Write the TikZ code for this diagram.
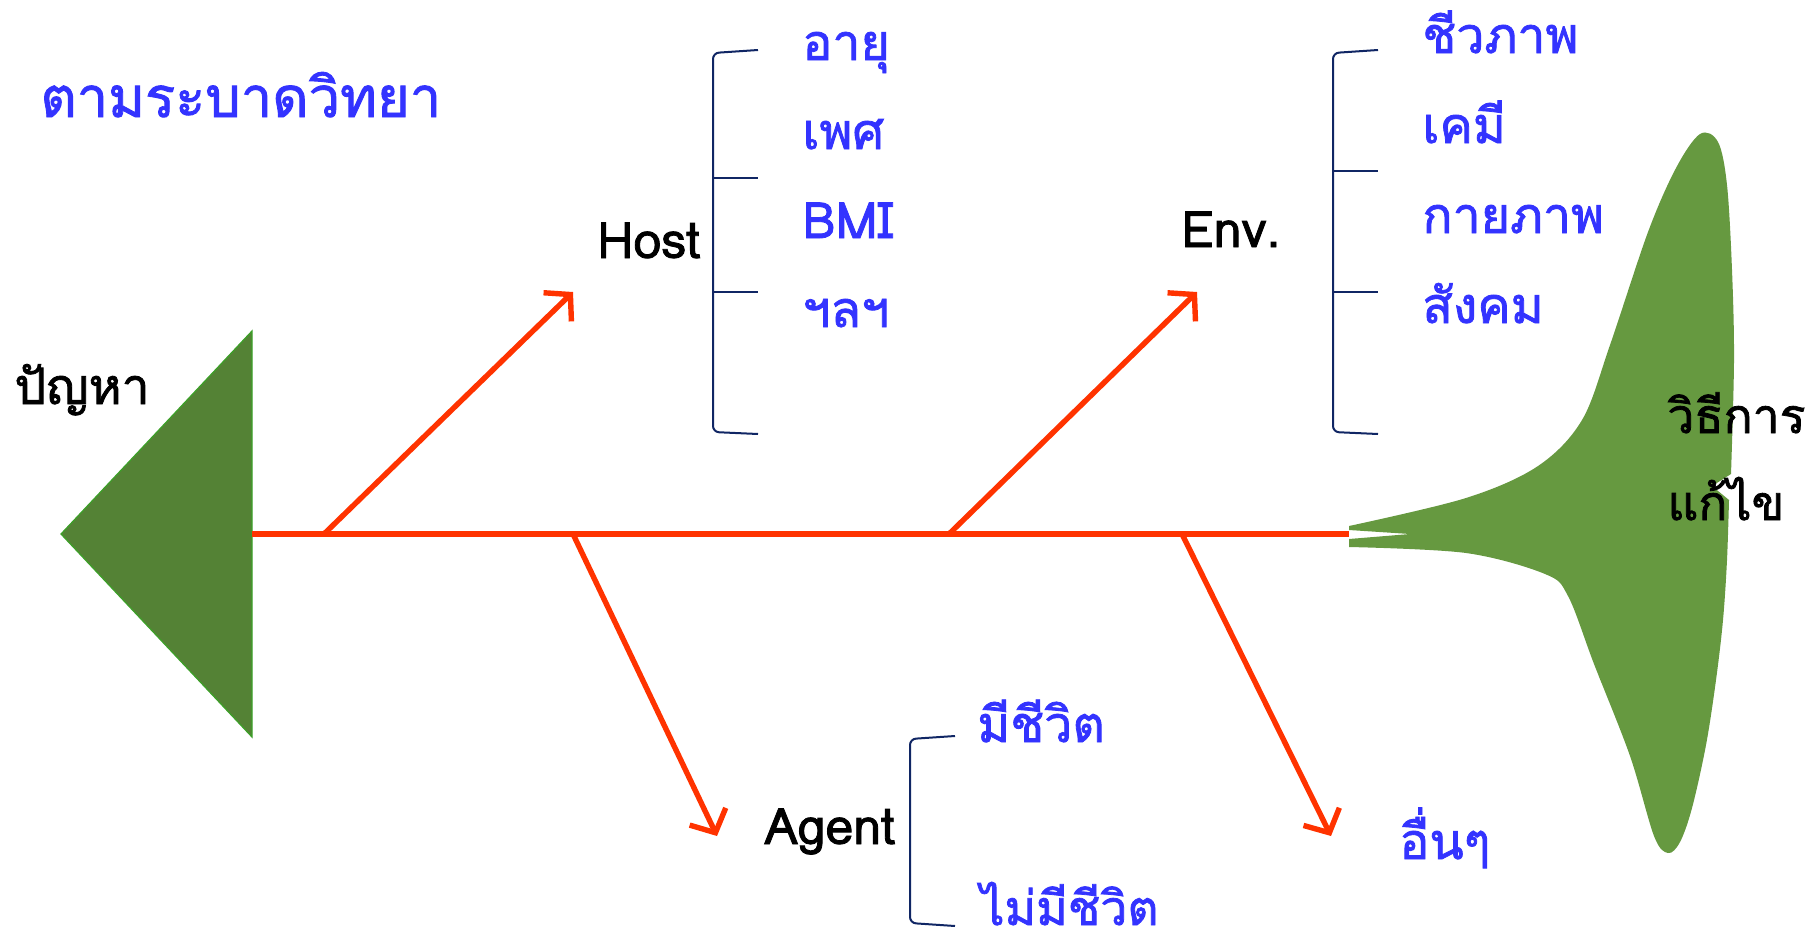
\documentclass[tikz,border=0pt]{standalone}
\usepackage{fontspec}
\newfontfamily\thaifont[Script=Thai, FakeBold=1.6]{Loma}
\usetikzlibrary{arrows.meta}

\definecolor{bonered}{RGB}{255,51,0}
\definecolor{itemblue}{RGB}{51,51,255}
\definecolor{braceblue}{RGB}{16,38,100}
\definecolor{headgreen}{RGB}{84,130,53}
\definecolor{headedge}{RGB}{60,160,40}
\definecolor{tailgreen}{RGB}{102,153,64}

\tikzset{
  bone/.style={bonered, line width=2.7pt},
  branch/.style={bone, -{Straight Barb[length=9pt,width=20pt]}},
  factor/.style={anchor=base west, inner sep=0pt, font=\thaifont\fontsize{25}{29}\selectfont},
  subitem/.style={factor, text=itemblue},
  brace/.style={braceblue, line width=1pt, rounded corners=3},
}

\begin{document}
\begin{tikzpicture}[x=0.5pt, y=-0.5pt]
    \useasboundingbox (0,0) rectangle (1814,942);

    % fish head and tail
    \filldraw[fill=headgreen, draw=headedge, line width=0.6pt]
        (61,534) -- (252,331) -- (252,737) -- cycle;
    \fill[tailgreen]
        plot[smooth, tension=0.55] coordinates {(1349,526) (1466,498) (1538,466) (1582,420)
            (1610,345) (1648,232) (1676,168) (1700,134) (1718,142) (1727,185) (1732,270)
            (1734,360) (1731,474)}
        -- (1712,486) --
        plot[smooth, tension=0.55] coordinates {(1729,500) (1727,560) (1723,620) (1716,680)
            (1706,745) (1692,808) (1680,842) (1668,853) (1654,836) (1630,756) (1594,664)
            (1568,596) (1545,574) (1466,553) (1349,547)}
        -- (1349,539) -- (1410,534) -- (1349,530) -- cycle;

    % spine
    \coordinate (head) at (252,534);
    \coordinate (tail) at (1349,534);
    \draw[bone] (head) -- (tail);

    \coordinate (hostroot) at (324,534);
    \coordinate (agentroot) at (573,534);
    \coordinate (envroot) at (949,534);
    \coordinate (otherroot) at (1182,534);
    \coordinate (hosttip) at (573,292);
    \coordinate (agenttip) at (717,836);
    \coordinate (envtip) at (1197,292);
    \coordinate (othertip) at (1331,836);

    \draw[branch] (hostroot) -- (hosttip);
    \draw[branch] (agentroot) -- (agenttip);
    \draw[branch] (envroot) -- (envtip);
    \draw[branch] (otherroot) -- (othertip);

    % labels
    \node[subitem, font=\thaifont\fontsize{28}{33}\selectfont] (title) at (40,117) {ตามระบาดวิทยา};
    \node[factor] (problem) at (14,404) {ปัญหา};
    \node[factor] (host) at (597,258) {Host};
    \node[factor] (env) at (1181,247) {Env.};
    \node[factor] (agent) at (764,844) {Agent};
    \node[subitem] (other) at (1399,859) {อื่นๆ};
    \node[factor, font=\thaifont\fontsize{24}{28}\selectfont] (solve1) at (1667,433) {วิธีการ};
    \node[factor, font=\thaifont\fontsize{24}{28}\selectfont] (solve2) at (1667,520) {แก้ไข};

    % host factors
    \draw[brace] (758,50) -- (713,53) -- (713,432) -- (758,434);
    \draw[brace] (713,178) -- (758,178);
    \draw[brace] (713,292) -- (758,292);
    \foreach \txt [count=\i] in {อายุ, เพศ, BMI, ฯลฯ}
        \node[subitem] (host\i) at (802,{60+89*(\i-1)}) {\txt};

    % environment factors
    \draw[brace] (1378,50) -- (1333,53) -- (1333,432) -- (1378,434);
    \draw[brace] (1333,171) -- (1378,171);
    \draw[brace] (1333,292) -- (1378,292);
    \foreach \txt [count=\i] in {ชีวภาพ, เคมี, กายภาพ, สังคม}
        \node[subitem] (env\i) at (1422,{53+90*(\i-1)}) {\txt};

    % agent factors
    \draw[brace] (955,736) -- (910,739) -- (910,923) -- (955,926);
    \node[subitem] (agent1) at (977,742) {มีชีวิต};
    \node[subitem, text depth=0pt, font=\thaifont\fontsize{24}{28}\selectfont] (agent2) at (980,925) {ไม่มีชีวิต};
\end{tikzpicture}
\end{document}
